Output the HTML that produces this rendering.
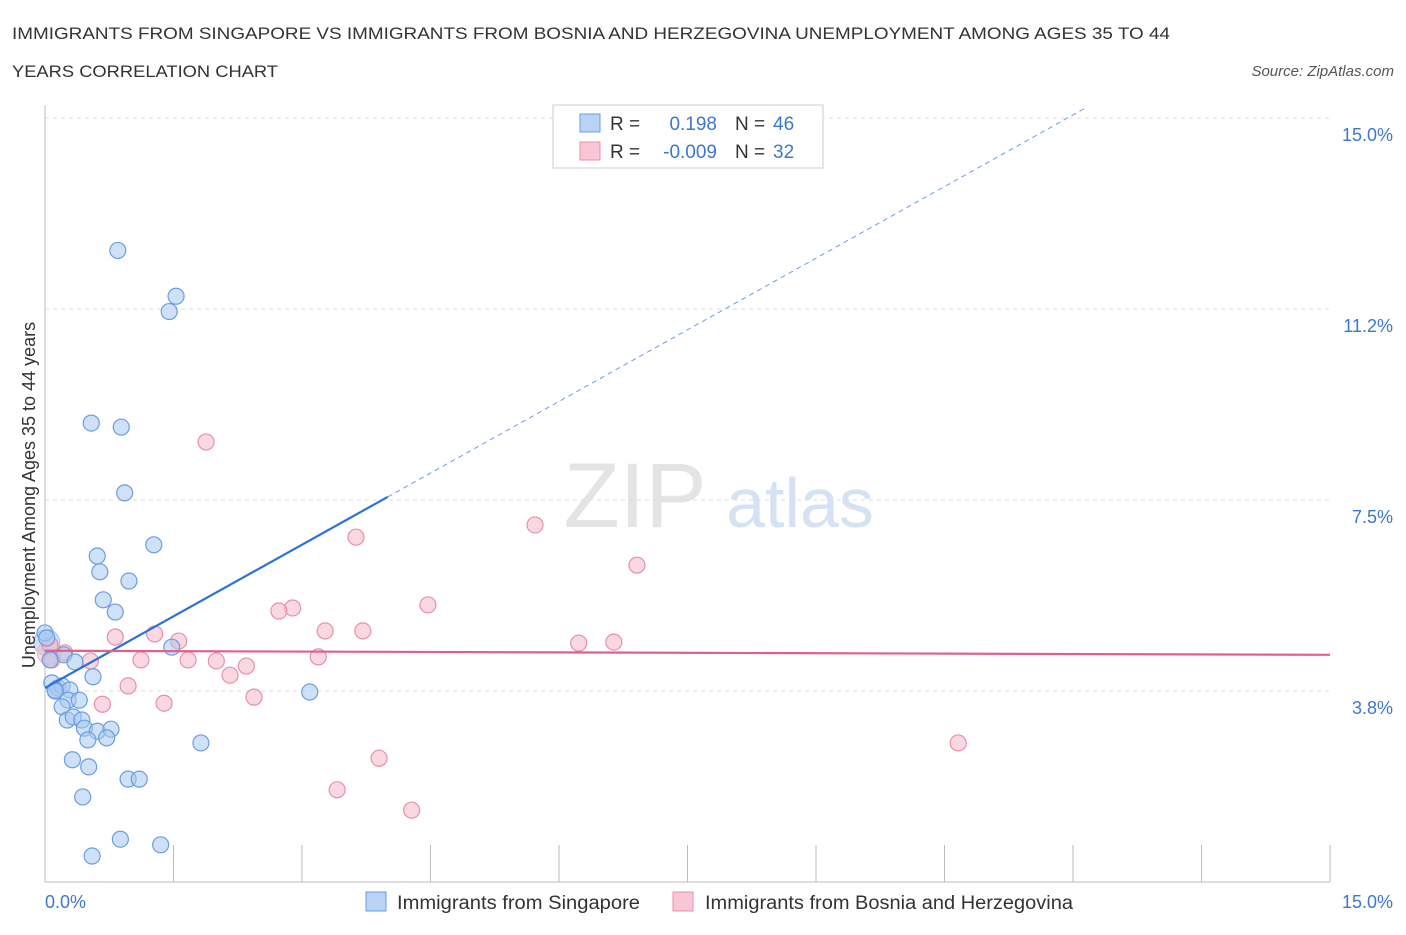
<!DOCTYPE html>
<html><head><meta charset="utf-8"><style>
body{margin:0;background:#fff;font-family:"Liberation Sans",sans-serif;}
svg text{font-family:"Liberation Sans",sans-serif;}
</style></head><body>
<svg id="chart" width="1406" height="930" viewBox="0 0 1406 930">
<text x="12" y="39" font-size="17" fill="#333" textLength="1158" lengthAdjust="spacingAndGlyphs">IMMIGRANTS FROM SINGAPORE VS IMMIGRANTS FROM BOSNIA AND HERZEGOVINA UNEMPLOYMENT AMONG AGES 35 TO 44</text>
<text x="12" y="77" font-size="17" fill="#333" textLength="266" lengthAdjust="spacingAndGlyphs">YEARS CORRELATION CHART</text>
<text x="1394" y="76" font-size="15" fill="#555" font-style="italic" text-anchor="end">Source: ZipAtlas.com</text>
<text x="635" y="527" font-size="92" fill="#e4e4e4" font-family="Liberation Serif" text-anchor="middle">ZIP</text>
<text x="800" y="527" font-size="70" fill="#d4e2f4" text-anchor="middle">atlas</text>
<g id="grid"></g>
<g id="axes"></g>
<g id="marks"></g>
<text x="35" y="495" font-size="18" fill="#333" text-anchor="middle" transform="rotate(-90 35 495)">Unemployment Among Ages 35 to 44 years</text>
<text x="45" y="908" font-size="18" fill="#3a78d0">0.0%</text>
<text x="1393" y="908" font-size="18" fill="#3a78d0" text-anchor="end">15.0%</text>
<g>
<rect x="553" y="105" width="270" height="63" fill="#fff" stroke="#ccc"/>
<rect x="580" y="114" width="20" height="18" fill="#b8d3f5" stroke="#6a9ee0"/>
<text x="610" y="130" font-size="19" fill="#333">R =</text><text x="717" y="130" font-size="19" fill="#3a78d0" text-anchor="end">0.198</text>
<text x="735" y="130" font-size="19" fill="#333">N =</text><text x="773" y="130" font-size="19" fill="#3a78d0">46</text>
<rect x="580" y="142" width="20" height="18" fill="#f8c6d4" stroke="#e890a8"/>
<text x="610" y="158" font-size="19" fill="#333">R =</text><text x="717" y="158" font-size="19" fill="#3a78d0" text-anchor="end">-0.009</text>
<text x="735" y="158" font-size="19" fill="#333">N =</text><text x="773" y="158" font-size="19" fill="#3a78d0">32</text>
</g>
<g><rect x="366" y="892" width="20" height="19" fill="#b8d3f5" stroke="#6a9ee0"/><text x="397" y="909" font-size="19" fill="#333" textLength="243" lengthAdjust="spacingAndGlyphs">Immigrants from Singapore</text></g>
<g><rect x="673" y="892" width="20" height="19" fill="#f8c6d4" stroke="#e890a8"/><text x="705" y="909" font-size="19" fill="#333" textLength="368" lengthAdjust="spacingAndGlyphs">Immigrants from Bosnia and Herzegovina</text></g>
</svg>
<script>
const yTicks=[3.75,7.5,11.25,15];
const yTickLabels=["3.8%","7.5%","11.2%","15.0%"];
const xTicks=[0,1.5,3,4.5,6,7.5,9,10.5,12,13.5,15];
const blueX=[0.85,1.53,1.45,0.54,0.89,0.93,1.27,0.61,0.64,0.98,0.68,0.82,1.48,0.22,0.35,0.56,3.09,0.0,0.02,0.08,0.15,0.20,0.12,0.29,0.27,0.40,0.20,0.26,0.33,0.43,0.46,0.61,0.77,0.72,0.50,1.82,0.32,0.51,0.97,1.10,0.44,0.88,1.35,0.55,0.06,0.12];
const blueY=[12.40,11.5,11.2,9.01,8.93,7.64,6.62,6.40,6.09,5.91,5.54,5.30,4.61,4.46,4.32,4.03,3.73,4.89,4.79,3.91,3.81,3.85,3.77,3.77,3.57,3.57,3.44,3.18,3.24,3.18,3.02,2.96,3.00,2.83,2.79,2.73,2.40,2.26,2.02,2.02,1.67,0.84,0.73,0.51,4.36,3.75];
const pinkX=[1.88,5.72,3.63,6.91,4.47,2.89,2.73,3.27,3.71,1.28,0.82,1.56,6.23,6.64,0.23,0.53,1.12,1.67,2.00,3.19,2.35,2.16,0.97,2.44,0.67,1.39,3.90,10.66,3.41,4.28,0.06,0.08];
const pinkY=[8.64,7.01,6.77,6.22,5.44,5.38,5.32,4.93,4.93,4.87,4.81,4.73,4.69,4.71,4.50,4.34,4.36,4.36,4.34,4.42,4.24,4.06,3.85,3.63,3.49,3.51,2.43,2.73,1.81,1.41,4.65,4.36];
const blueTrend=[3.81,0.9375];
const pinkTrend=[4.54,4.46];
const NS="http://www.w3.org/2000/svg";
const X=v=>45+v*(1285/15), Y=v=>882-v*(764/15);
function mk(p,t,a){const e=document.createElementNS(NS,t);for(const k in a)e.setAttribute(k,a[k]);p.appendChild(e);return e;}
const grid=document.getElementById('grid'),axes=document.getElementById('axes'),marks=document.getElementById('marks');
yTicks.forEach((v,i)=>{
 const l=mk(grid,'line',{x1:45,x2:1330,y1:Y(v),y2:Y(v),stroke:'#ddd','stroke-dasharray':'4 4'});
 
 
 const t=mk(grid,'text',{x:1393,y:Y(v)+23,'font-size':18,fill:'#3a78d0','text-anchor':'end'});
 t.textContent=yTickLabels[i];
 
 
});
const ax=mk(axes,'line',{x1:45,x2:45,y1:105,y2:882,stroke:'#bbb'});


const bx=mk(axes,'line',{x1:45,x2:1330,y1:882,y2:882,stroke:'#bbb'});


xTicks.forEach(v=>{
 const t=mk(axes,'line',{x1:X(v),x2:X(v),y1:845,y2:882,stroke:'#bbb'});
 
 
});
function dot(x,y,c,s,name,r){
 const e=mk(marks,'circle',{cx:X(x),cy:Y(y),r:r||8,fill:c,'fill-opacity':0.55,stroke:s,'stroke-width':1.2});
 
 
}
dot(0.02,4.7,'#a8c8f0','#a8c8f0','blue-point-large',13);
dot(0.05,4.5,'#f5b8c8','#f5b8c8','pink-point-large',12);
pinkX.forEach((x,i)=>dot(x,pinkY[i],'#f5b8c8','#e890a8','pink-point'));
blueX.forEach((x,i)=>dot(x,blueY[i],'#a8c8f0','#6a9ee0','blue-point'));
const bxEnd=4.0, bxMax=(15.2-blueTrend[0])/blueTrend[1];
const bl=mk(marks,'line',{x1:X(0),y1:Y(blueTrend[0]),x2:X(bxEnd),y2:Y(blueTrend[0]+blueTrend[1]*bxEnd),stroke:'#2a72d8','stroke-width':2.2});


const bd=mk(marks,'line',{x1:X(bxEnd),y1:Y(blueTrend[0]+blueTrend[1]*bxEnd),x2:X(bxMax),y2:Y(15.2),stroke:'#6a9ee0','stroke-width':1,'stroke-dasharray':'5 4'});


const pl=mk(marks,'line',{x1:X(0),y1:Y(pinkTrend[0]),x2:X(15),y2:Y(pinkTrend[1]),stroke:'#e0608a','stroke-width':2.2});


</script>
</body></html>
